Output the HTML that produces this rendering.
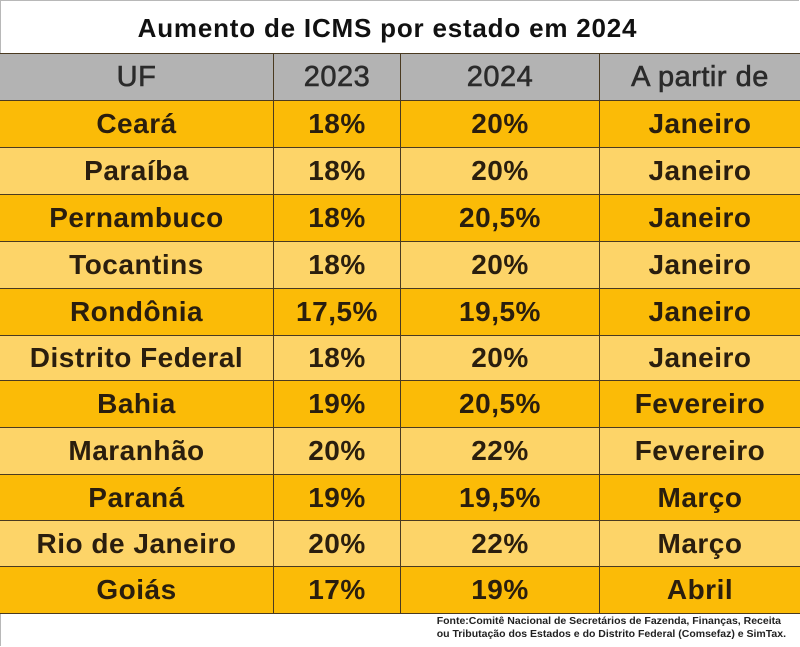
<!DOCTYPE html>
<html><head><meta charset="utf-8"><style>
body{margin:0;width:800px;height:647px;background:#fff;font-family:"Liberation Sans",sans-serif;position:relative;overflow:hidden}
.f{position:absolute;left:0;top:0;width:798px;height:645px;border:1px solid #b8b8b8;border-right:none;border-bottom:none}
.t{position:absolute;left:0;top:13px;width:775px;text-align:center;font-weight:bold;font-size:26px;letter-spacing:0.8px;color:#111}
.r{position:absolute;left:0;width:800px;border-top:1.5px solid #4a3a20;box-sizing:border-box}
.c{position:absolute;top:0;bottom:0;display:flex;align-items:center;justify-content:center;font-weight:bold;font-size:28px;letter-spacing:0.5px;color:#2a1e0e;border-left:1.5px solid #4a3a20;box-sizing:border-box}
.h .c{color:#2b2b2b;font-weight:normal;font-size:29px;-webkit-text-stroke:0.6px #2b2b2b}
.n{position:absolute;right:14px;top:615px;font-size:10.5px;font-weight:bold;color:#222;line-height:13px}
</style></head><body>
<div class="f"></div>
<div class="t">Aumento de ICMS por estado em 2024</div>
<div id="tb"></div>
<div class="n">Fonte:Comitê Nacional de Secretários de Fazenda, Finanças, Receita<br>ou Tributação dos Estados e do Distrito Federal (Comsefaz) e SimTax.</div>
<script>
var rows=[["UF","2023","2024","A partir de"],["Ceará","18%","20%","Janeiro"],["Paraíba","18%","20%","Janeiro"],["Pernambuco","18%","20,5%","Janeiro"],["Tocantins","18%","20%","Janeiro"],["Rondônia","17,5%","19,5%","Janeiro"],["Distrito Federal","18%","20%","Janeiro"],["Bahia","19%","20,5%","Fevereiro"],["Maranhão","20%","22%","Fevereiro"],["Paraná","19%","19,5%","Março"],["Rio de Janeiro","20%","22%","Março"],["Goiás","17%","19%","Abril"]];
var tops=[53,100,147,194,241,288,335,380,427,474,520,566,612];
var cx=[0,273,400,599,800];var h="";
rows.forEach(function(r,i){
 var bg=i==0?"#b3b3b3":(i%2?"#fbbb07":"#fdd468");
 h+='<div class="r'+(i==0?' h':'')+'" style="top:'+tops[i]+'px;height:'+(tops[i+1]-tops[i]+(i==11?1.5:0))+'px;background:'+bg+(i==11?';border-bottom:1.5px solid #4a3a20':'')+'">';
 r.forEach(function(t,j){h+='<div class="c" style="left:'+cx[j]+'px;width:'+(cx[j+1]-cx[j])+'px;'+(j==0?'border-left:none;':'')+'">'+t+'</div>';});
 h+='</div>';});
document.getElementById("tb").innerHTML=h;
</script>
</body></html>
